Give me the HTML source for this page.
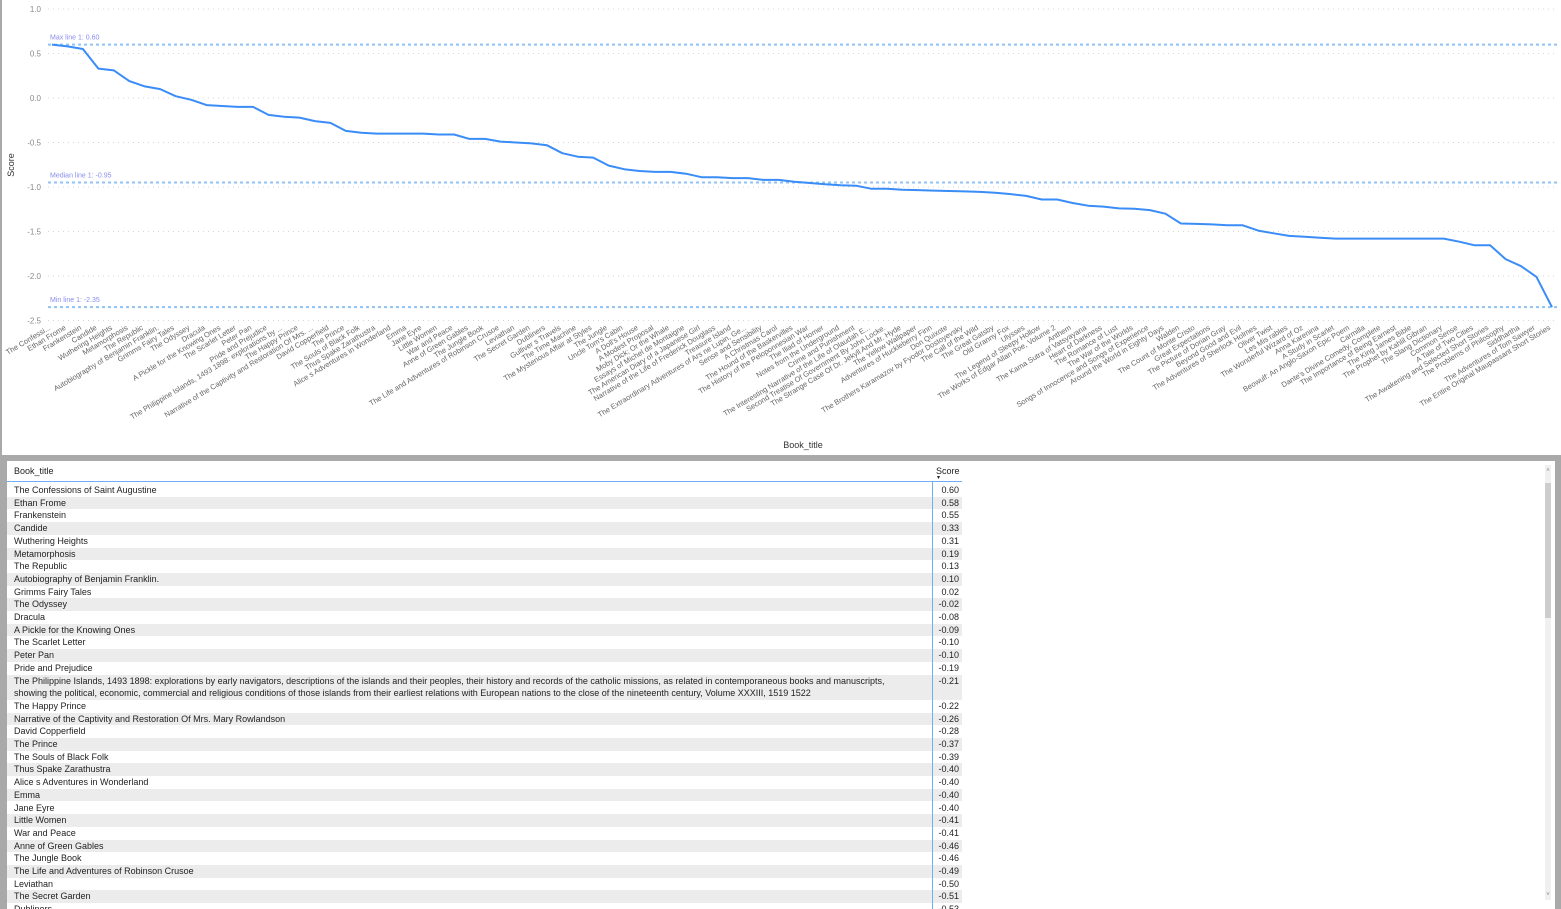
<!DOCTYPE html>
<html><head><meta charset="utf-8">
<style>
html,body{margin:0;padding:0;width:1561px;height:909px;overflow:hidden;background:#a9a9a9;font-family:"Liberation Sans",sans-serif;}
#toppanel{position:absolute;left:2px;top:0;width:1559px;height:455px;background:#fff;}
#bottom{position:absolute;left:7px;top:461px;width:1548px;height:448px;background:#fff;overflow:hidden;}
.row{position:absolute;left:0;width:955px;font-size:9px;color:#222;}
.row .t{position:absolute;left:7px;top:0;line-height:12.7px;width:905px;}
.row .v{position:absolute;left:926px;width:26px;text-align:right;top:0;line-height:12.7px;}
</style></head><body>
<div id="toppanel">
<svg id="chart" width="1559" height="455"></svg>
</div>
<div id="bottom">
  <div style="position:absolute;left:7px;top:5px;font-size:9px;color:#222">Book_title</div>
  <div style="position:absolute;left:929px;top:5px;font-size:9px;color:#222">Score<div style="font-size:6px;line-height:5px;margin-left:1px">▾</div></div>
  <div style="position:absolute;left:0;top:20px;width:955px;height:1px;background:#6fb0f5"></div>
  <div id="rows"></div>
  <div style="position:absolute;left:925px;top:20px;width:1px;height:430px;background:#6fb0f5;z-index:5"></div>
  <div style="position:absolute;left:1538px;top:4px;width:6px;height:435px;background:#f0f0f0">
    <div style="position:absolute;left:0;top:18px;width:6px;height:135px;background:#cdcdcd"></div>
    <div style="position:absolute;top:3px;left:0;width:6px;text-align:center;font-size:6px;color:#888;line-height:6px">˄</div>
    <div style="position:absolute;bottom:2px;left:0;width:6px;text-align:center;font-size:6px;color:#888;line-height:6px">˅</div>
  </div>
</div>
<script>
const labels=["The Confessi...","Ethan Frome","Frankenstein","Candide","Wuthering Heights","Metamorphosis","The Republic","Autobiography of Benjamin Franklin.","Grimms Fairy Tales","The Odyssey","Dracula","A Pickle for the Knowing Ones","The Scarlet Letter","Peter Pan","Pride and Prejudice","The Philippine Islands, 1493 1898: explorations by ...","The Happy Prince","Narrative of the Captivity and Restoration Of Mrs. ...","David Copperfield","The Prince","The Souls of Black Folk","Thus Spake Zarathustra","Alice s Adventures in Wonderland","Emma","Jane Eyre","Little Women","War and Peace","Anne of Green Gables","The Jungle Book","The Life and Adventures of Robinson Crusoe","Leviathan","The Secret Garden","Dubliners","Gulliver s Travels","The Time Machine","The Mysterious Affair at Styles","The Jungle","Uncle Tom's Cabin","A Doll's House","A Modest Proposal","Moby Dick; Or the Whale","Essays of Michel de Montaigne","The American Diary of a Japanese Girl","Narrative of the Life of Frederick Douglass","Treasure Island","The Extraordinary Adventures of Ars ne Lupin, Ge...","Sense and Sensibility","A Christmas Carol","The Hound of the Baskervilles","The History of the Peloponnesian War","The Iliad of Homer","Notes from the Underground","Crime and Punishment","The Interesting Narrative of the Life of Olaudah E...","Second Treatise Of Government By John Locke.","The Strange Case Of Dr. Jekyll And Mr. Hyde","The Yellow Wallpaper","Adventures of Huckleberry Finn","Don Quixote","The Brothers Karamazov by Fyodor Dostoyevsky","The Call of the Wild","The Great Gatsby","Old Granny Fox","Ulysses","The Legend of Sleepy Hollow","The Works of Edgar Allan Poe, Volume 2","Anthem","The Kama Sutra of Vatsyayana","Heart of Darkness","The Romance of Lust","The War of the Worlds","Songs of Innocence and Songs of Experience","Around the World in Eighty Days","Walden","The Count of Monte Cristo","Great Expectations","The Picture of Dorian Gray","Beyond Good and Evil","The Adventures of Sherlock Holmes","Oliver Twist","Les Mis rables","The Wonderful Wizard of Oz","Anna Karenina","A Study in Scarlet","Beowulf: An Anglo-Saxon Epic Poem","Carmilla","Dante's Divine Comedy, Complete","The Importance of Being Earnest","The King James Bible","The Prophet by Kahlil Gibran","The Slang Dictionary","Common Sense","A Tale of Two Cities","The Awakening and Selected Short Stories","The Problems of Philosophy","Siddhartha","The Adventures of Tom Sawyer","The Entire Original Maupassant Short Stories"];
const scores=[0.60,0.58,0.55,0.33,0.31,0.19,0.13,0.10,0.02,-0.02,-0.08,-0.09,-0.10,-0.10,-0.19,-0.21,-0.22,-0.26,-0.28,-0.37,-0.39,-0.40,-0.40,-0.40,-0.40,-0.41,-0.41,-0.46,-0.46,-0.49,-0.50,-0.51,-0.53,-0.62,-0.66,-0.67,-0.76,-0.80,-0.82,-0.83,-0.83,-0.85,-0.89,-0.89,-0.90,-0.90,-0.92,-0.92,-0.94,-0.955,-0.97,-0.98,-0.985,-1.02,-1.02,-1.03,-1.035,-1.04,-1.045,-1.05,-1.055,-1.065,-1.08,-1.10,-1.14,-1.14,-1.18,-1.21,-1.22,-1.24,-1.245,-1.26,-1.30,-1.41,-1.415,-1.42,-1.43,-1.43,-1.49,-1.52,-1.55,-1.56,-1.57,-1.58,-1.58,-1.58,-1.58,-1.58,-1.58,-1.58,-1.58,-1.615,-1.655,-1.655,-1.81,-1.89,-2.01,-2.35];
const yTicks=[1.0,0.5,0.0,-0.5,-1.0,-1.5,-2.0,-2.5];
const refNames=["Max line 1","Median line 1","Min line 1"];
const refValues=[0.60,-0.95,-2.35];
const tableTitles=["The Confessions of Saint Augustine","Ethan Frome","Frankenstein","Candide","Wuthering Heights","Metamorphosis","The Republic","Autobiography of Benjamin Franklin.","Grimms Fairy Tales","The Odyssey","Dracula","A Pickle for the Knowing Ones","The Scarlet Letter","Peter Pan","Pride and Prejudice","The Philippine Islands, 1493 1898: explorations by early navigators, descriptions of the islands and their peoples, their history and records of the catholic missions, as related in contemporaneous books and manuscripts, showing the political, economic, commercial and religious conditions of those islands from their earliest relations with European nations to the close of the nineteenth century, Volume XXXIII, 1519 1522","The Happy Prince","Narrative of the Captivity and Restoration Of Mrs. Mary Rowlandson","David Copperfield","The Prince","The Souls of Black Folk","Thus Spake Zarathustra","Alice s Adventures in Wonderland","Emma","Jane Eyre","Little Women","War and Peace","Anne of Green Gables","The Jungle Book","The Life and Adventures of Robinson Crusoe","Leviathan","The Secret Garden","Dubliners"];
const tableScores=["0.60","0.58","0.55","0.33","0.31","0.19","0.13","0.10","0.02","-0.02","-0.08","-0.09","-0.10","-0.10","-0.19","-0.21","-0.22","-0.26","-0.28","-0.37","-0.39","-0.40","-0.40","-0.40","-0.40","-0.41","-0.41","-0.46","-0.46","-0.49","-0.50","-0.51","-0.53"];

const NS="http://www.w3.org/2000/svg";
const svg=document.getElementById('chart');
const X0=50,X1=1550,Y_TOP=9,UNIT=89;
function xS(i){return X0+i*(X1-X0)/(labels.length-1);}
function yS(v){return Y_TOP+(1.0-v)*UNIT;}
function mk(tag,attrs,parent){const e=document.createElementNS(NS,tag);for(const k in attrs)e.setAttribute(k,attrs[k]);(parent||svg).appendChild(e);return e;}

yTicks.forEach(t=>{
  const g=mk('line',{x1:46,x2:1556,y1:yS(t),y2:yS(t),stroke:'#d6d6d6','stroke-dasharray':'1 4','stroke-width':1});
  
  
  const tx=mk('text',{x:39,y:yS(t)+3,'text-anchor':'end','font-size':8,fill:'#8a8a8a'});
  tx.textContent=t.toFixed(1);
  
  
});
const yt=mk('text',{x:0,y:0,transform:'translate(12,165) rotate(-90)','text-anchor':'middle','font-size':9,fill:'#333'});
yt.textContent='Score';


const xt=mk('text',{x:801,y:448,'text-anchor':'middle','font-size':9,fill:'#333'});
xt.textContent='Book_title';



refValues.forEach((v,k)=>{
  const l=mk('line',{x1:46,x2:1556,y1:yS(v),y2:yS(v),stroke:'#8fc3f7','stroke-width':2,'stroke-dasharray':'3 3'});
  
  
  const t=mk('text',{x:48,y:yS(v)-5,'font-size':7,fill:'#8a8cf0'});
  t.textContent=refNames[k]+': '+v.toFixed(2);
  
  
});

const pts=scores.map((v,i)=>xS(i).toFixed(1)+','+yS(v).toFixed(1)).join(' ');
const pl=mk('polyline',{points:pts,fill:'none',stroke:'#3a8cf7','stroke-width':2,'stroke-linejoin':'round'});



labels.forEach((s,i)=>{
  const x=xS(i)-1,y=329;
  const t=mk('text',{x:x,y:y,'text-anchor':'end','font-size':7.5,fill:'#666',transform:`rotate(-31 ${x} ${y})`});
  t.textContent=s;
  
  
});

const rowsEl=document.getElementById('rows');
let rowTop=23;
tableTitles.forEach((s,i)=>{
  const h=(i===15)?25.4:12.7;
  const r=document.createElement('div');
  r.className='row';
  r.style.top=rowTop+'px';r.style.height=h+'px';
  if(i%2===1)r.style.background='#ececec';
  r.innerHTML='<div class="t"></div><div class="v"></div>';
  r.children[0].textContent=s;r.children[1].textContent=tableScores[i];
  
  
  rowsEl.appendChild(r);
  rowTop+=h;
});
</script>
</body></html>
